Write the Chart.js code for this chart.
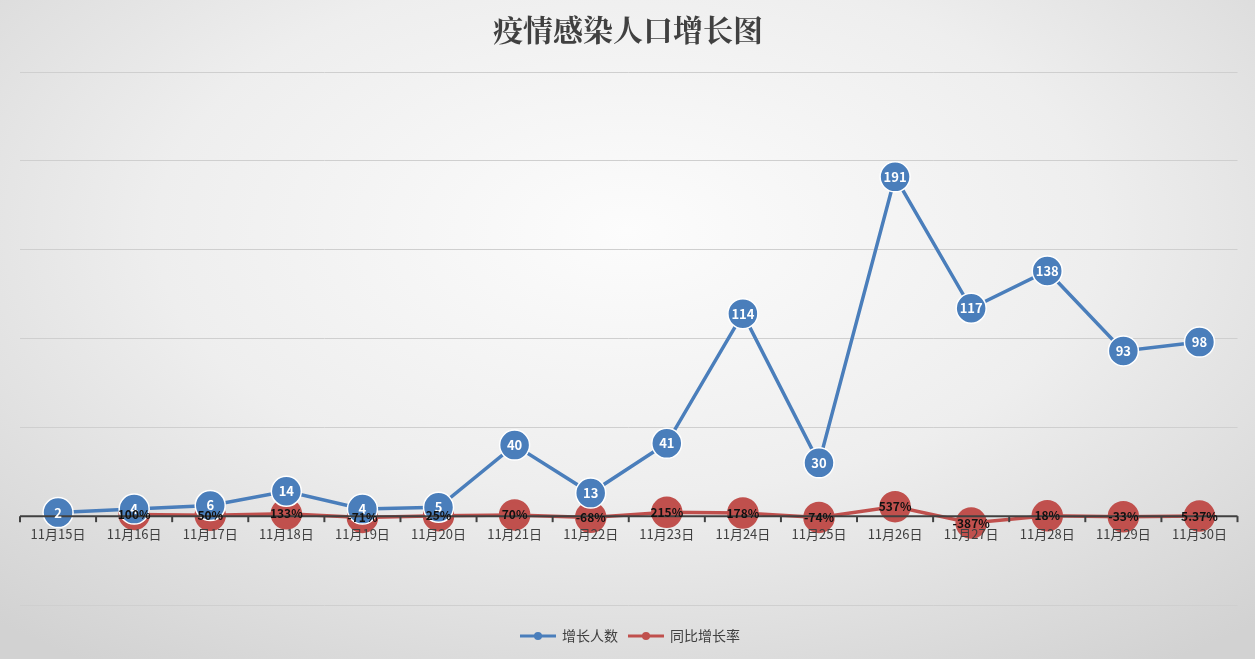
<!DOCTYPE html>
<html><head><meta charset="utf-8">
<script src="https://cdn.jsdelivr.net/npm/chart.js@4"></script>
<style>
html,body{margin:0;padding:0;}
body{width:1255px;height:659px;background:radial-gradient(ellipse 75% 80% at 50% 35%,#fcfcfc 0%,#eeeeee 50%,#d2d2d2 100%);}
#w{position:relative;width:1255px;height:659px;}
</style></head><body><div id="w"><canvas id="c" width="1255" height="659"></canvas></div>
<script>
const categories=["11月15日","11月16日","11月17日","11月18日","11月19日","11月20日","11月21日","11月22日","11月23日","11月24日","11月25日","11月26日","11月27日","11月28日","11月29日","11月30日"];
const growth=[2,4,6,14,4,5,40,13,41,114,30,191,117,138,93,98];
const rate=[null,1.0,0.5,1.33,-0.71,0.25,0.7,-0.68,2.15,1.78,-0.74,5.37,-3.87,0.18,-0.33,0.0537];
const rateLabels=["","100%","50%","133%","-71%","25%","70%","-68%","215%","178%","-74%","537%","-387%","18%","-33%","5.37%"];
const FONT='"Noto Sans CJK SC","Microsoft YaHei",sans-serif';
const deco={id:'deco',afterDatasetsDraw(ch){
 const c=ch.ctx,x=ch.scales.x,y=ch.scales.y,a=ch.chartArea;
 c.save();
 const y0=y.getPixelForValue(0);
 c.strokeStyle='#404040';c.lineWidth=2;
 c.beginPath();c.moveTo(a.left,y0);c.lineTo(a.right,y0);c.stroke();
 const step=(a.right-a.left)/categories.length;
 for(let i=0;i<=categories.length;i++){const xx=a.left+i*step;c.beginPath();c.moveTo(xx,y0);c.lineTo(xx,y0+6);c.stroke();}
 c.fillStyle='#404040';c.font='13px '+FONT;c.textAlign='center';c.textBaseline='middle';
 categories.forEach((t,i)=>c.fillText(t,x.getPixelForValue(i),y0+18));
 const m0=ch.getDatasetMeta(0),m1=ch.getDatasetMeta(1);
 c.font='bold 13px '+FONT;c.fillStyle='#ffffff';
 m0.data.forEach((p,i)=>c.fillText(String(growth[i]),p.x,p.y));
 c.fillStyle='#111';c.font='bold 12px '+FONT;
 m1.data.forEach((p,i)=>{if(rate[i]!==null)c.fillText(rateLabels[i],p.x,p.y);});
 c.fillStyle='#404040';c.font='bold 30px "Noto Serif CJK SC","Noto Sans CJK SC",serif';
 c.fillText('疫情感染人口增长图',628,30);
 c.font='14px '+FONT;c.textAlign='left';
 const items=[['增长人数','#4a7ebb'],['同比增长率','#c0504d']];
 let lx=520;const ly=636;
 items.forEach(([t,col])=>{c.strokeStyle=col;c.lineWidth=3;c.beginPath();c.moveTo(lx,ly);c.lineTo(lx+36,ly);c.stroke();
  c.fillStyle=col;c.beginPath();c.arc(lx+18,ly,4,0,Math.PI*2);c.fill();
  c.fillStyle='#404040';c.fillText(t,lx+42,ly);lx+=42+c.measureText(t).width+10;});
 c.restore();
}};
new Chart(document.getElementById('c'),{
 type:'line',
 data:{labels:categories,datasets:[
  {label:'增长人数',data:growth,borderColor:'#4a7ebb',backgroundColor:'#4a7ebb',borderWidth:3.5,pointRadius:15,pointHoverRadius:15,pointBorderColor:'#ffffff',pointBorderWidth:1.5,tension:0},
  {label:'同比增长率',data:rate,borderColor:'#c0504d',backgroundColor:'#c0504d',borderWidth:3.5,pointRadius:14,pointHoverRadius:14,pointBorderColor:'#c0504d',tension:0,spanGaps:false}
 ]},
 options:{responsive:false,animation:false,devicePixelRatio:1,
  layout:{padding:{left:20,right:15,top:72,bottom:54}},
  plugins:{legend:{display:false},title:{display:false},tooltip:{enabled:false}},
  scales:{
   x:{display:false,offset:true},
   y:{min:-50,max:250,ticks:{display:false,stepSize:50},border:{display:false},grid:{color:'#cfcfcf',drawTicks:false,tickLength:0}}
  }},
 plugins:[deco]
});
</script>
</body></html>
